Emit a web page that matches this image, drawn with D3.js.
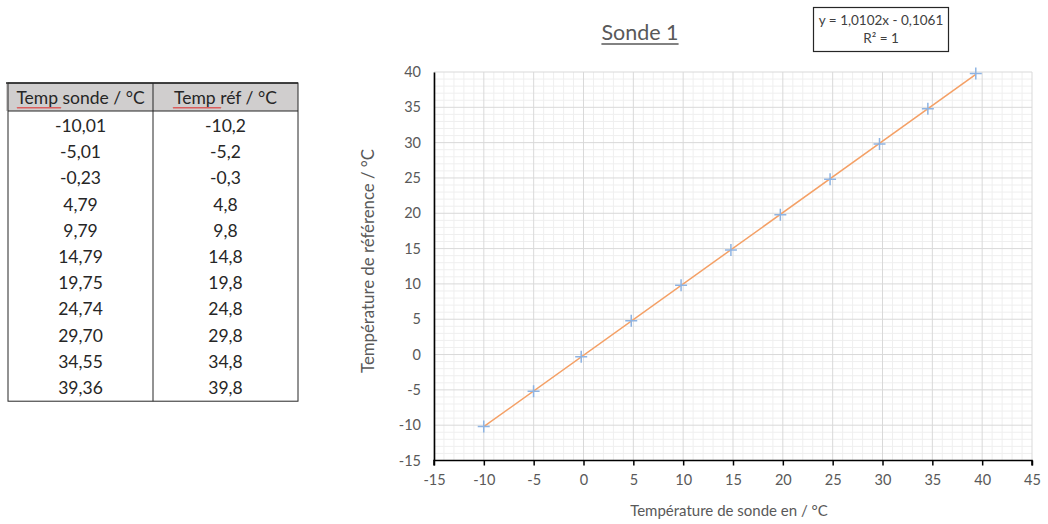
<!DOCTYPE html>
<html>
<head>
<meta charset="utf-8">
<script src="https://cdn.jsdelivr.net/npm/d3@7"></script>
<style>
  body { margin: 0; background: #fff; }
  svg { font-family: Lato, "Open Sans", sans-serif; }
</style>
</head>
<body>
<div id="chart"></div>
<script>
const tempSonde = [-10.01, -5.01, -0.23, 4.79, 9.79, 14.79, 19.75, 24.74, 29.70, 34.55, 39.36];
const tempRef = [-10.2, -5.2, -0.3, 4.8, 9.8, 14.8, 19.8, 24.8, 29.8, 34.8, 39.8];
const sondeLabels = ["-10,01", "-5,01", "-0,23", "4,79", "9,79", "14,79", "19,75", "24,74", "29,70", "34,55", "39,36"];
const refLabels = ["-10,2", "-5,2", "-0,3", "4,8", "9,8", "14,8", "19,8", "24,8", "29,8", "34,8", "39,8"];
const headers = ["Temp sonde / °C", "Temp réf / °C"];
const xTicks = d3.range(-15, 46, 5);
const yTicks = d3.range(-15, 41, 5);
const slope = 1.0102, intercept = -0.1061;

const W = 1048, H = 524;
const svg = d3.select("#chart").append("svg")
    .attr("width", W)
    .attr("height", H);

// ---- tableau ----
const tbl = svg.append("g");
const tx0 = 8, tx1 = 153, tx2 = 298;
const headTop = 83, headBot = 111, rowH = 26.2;
const tBot = headBot + rowH * tempSonde.length + 2;

tbl.append("rect")
    .attr("x", 6).attr("y", headTop)
    .attr("width", tx2 - 6).attr("height", headBot - headTop)
    .attr("fill", "#d0cece");
tbl.append("line").attr("x1", 6).attr("x2", tx2).attr("y1", headTop).attr("y2", headTop)
    .attr("stroke", "#262626").attr("stroke-width", 1.5);
tbl.append("line").attr("x1", tx0).attr("x2", tx2).attr("y1", headBot).attr("y2", headBot)
    .attr("stroke", "#262626").attr("stroke-width", 1);
tbl.append("rect")
    .attr("x", tx0).attr("y", headTop)
    .attr("width", tx2 - tx0).attr("height", tBot - headTop)
    .attr("fill", "none").attr("stroke", "#262626").attr("stroke-width", 1);
tbl.append("line").attr("x1", tx1).attr("x2", tx1).attr("y1", headTop).attr("y2", tBot)
    .attr("stroke", "#262626").attr("stroke-width", 1);

const colX = [(tx0 + tx1) / 2, (tx1 + tx2) / 2];
tbl.selectAll("text.head")
    .data(headers)
    .enter().append("text")
    .attr("class", "head")
    .attr("x", (d, i) => colX[i])
    .attr("y", headTop + 21)
    .attr("text-anchor", "middle")
    .attr("font-size", 17.5)
    .attr("fill", "#262626")
    .text(d => d);

// soulignements rouges (correcteur)
function squiggle(x0, x1, y) {
    let p = `M${x0},${y}`;
    for (let x = x0; x < x1; x += 2) p += ` L${x + 1},${y + 1.5} L${x + 2},${y}`;
    return p;
}
[[17, 61], [173, 220]].forEach(s => {
    tbl.append("path")
        .attr("d", squiggle(s[0], s[1], 107))
        .attr("fill", "none")
        .attr("stroke", "#e03030")
        .attr("stroke-width", 0.8);
});

[sondeLabels, refLabels].forEach((col, ci) => {
    tbl.selectAll(`text.c${ci}`)
        .data(col)
        .enter().append("text")
        .attr("class", `c${ci}`)
        .attr("x", colX[ci])
        .attr("y", (d, i) => headBot + rowH * i + 21)
        .attr("text-anchor", "middle")
        .attr("font-size", 17.5)
        .attr("fill", "#262626")
        .text(d => d);
});

// ---- graphique ----
const x = d3.scaleLinear().domain([-15, 45]).range([434, 1032]);
const y = d3.scaleLinear().domain([-15, 40]).range([460.5, 72]);

const grid = svg.append("g");
grid.selectAll("line.mx")
    .data(d3.range(-15, 46, 1).filter(v => v % 5 !== 0))
    .enter().append("line")
    .attr("x1", d => x(d)).attr("x2", d => x(d))
    .attr("y1", y(-15)).attr("y2", y(40))
    .attr("stroke", "#efefef").attr("stroke-width", 1);
grid.selectAll("line.my")
    .data(d3.range(-15, 41, 1).filter(v => v % 5 !== 0))
    .enter().append("line")
    .attr("y1", d => y(d)).attr("y2", d => y(d))
    .attr("x1", x(-15)).attr("x2", x(45))
    .attr("stroke", "#efefef").attr("stroke-width", 1);
grid.selectAll("line.Mx")
    .data(xTicks)
    .enter().append("line")
    .attr("x1", d => x(d)).attr("x2", d => x(d))
    .attr("y1", y(-15)).attr("y2", y(40))
    .attr("stroke", "#d9d9d9").attr("stroke-width", 1);
grid.selectAll("line.My")
    .data(yTicks)
    .enter().append("line")
    .attr("y1", d => y(d)).attr("y2", d => y(d))
    .attr("x1", x(-15)).attr("x2", x(45))
    .attr("stroke", "#d9d9d9").attr("stroke-width", 1);

// axes
const fmt = d => String(d);
const xAxis = svg.append("g")
    .attr("transform", `translate(0,${y(-15)})`)
    .call(d3.axisBottom(x).tickValues(xTicks).tickSize(5).tickPadding(9).tickFormat(fmt));
const yAxis = svg.append("g")
    .attr("transform", `translate(${x(-15)},0)`)
    .call(d3.axisLeft(y).tickValues(yTicks).tickSize(0).tickPadding(13).tickFormat(fmt));
[xAxis, yAxis].forEach(a => {
    a.select(".domain").attr("stroke", "#000").attr("stroke-width", 1.6);
    a.selectAll(".tick line").attr("stroke", "#000").attr("stroke-width", 1.5);
    a.selectAll(".tick text")
        .attr("font-family", "Lato, sans-serif")
        .attr("font-size", 14.5)
        .attr("fill", "#595959");
});
xAxis.select(".domain").attr("d", `M${x(-15)},5V0H${x(45)}V5`);

// courbe de tendance
const xs = d3.extent(tempSonde);
svg.append("line")
    .attr("x1", x(xs[0])).attr("y1", y(slope * xs[0] + intercept))
    .attr("x2", x(xs[1])).attr("y2", y(slope * xs[1] + intercept))
    .attr("stroke", "#f4a066")
    .attr("stroke-width", 1.5);

// points
svg.selectAll("path.pt")
    .data(tempSonde)
    .enter().append("path")
    .attr("class", "pt")
    .attr("d", (d, i) => `M${x(d) - 6},${y(tempRef[i])}h12M${x(d)},${y(tempRef[i]) - 6}v12`)
    .attr("stroke", "#8eb4e3")
    .attr("stroke-width", 1.5)
    .attr("fill", "none");

// titres
const title = svg.append("text")
    .attr("x", 640).attr("y", 40)
    .attr("text-anchor", "middle")
    .attr("font-size", 21.5)
    .attr("fill", "#595959")
    .text("Sonde 1");
const tb = title.node().getBBox();
svg.append("line")
    .attr("x1", tb.x).attr("x2", tb.x + tb.width)
    .attr("y1", 44).attr("y2", 44)
    .attr("stroke", "#595959").attr("stroke-width", 1.5);

svg.append("text")
    .attr("x", 729).attr("y", 516)
    .attr("text-anchor", "middle")
    .attr("font-size", 15)
    .attr("fill", "#595959")
    .text("Température de sonde en / °C");
svg.append("text")
    .attr("transform", `translate(374,${261}) rotate(-90)`)
    .attr("text-anchor", "middle")
    .attr("font-size", 16.8)
    .attr("fill", "#595959")
    .text("Température de référence / °C");

// équation
svg.append("rect")
    .attr("x", 813.5).attr("y", 7.5)
    .attr("width", 135).attr("height", 44)
    .attr("fill", "#fff")
    .attr("stroke", "#262626").attr("stroke-width", 1.2);
svg.append("text")
    .attr("x", 881).attr("y", 25)
    .attr("text-anchor", "middle")
    .attr("font-size", 13.5)
    .attr("fill", "#404040")
    .text("y = 1,0102x - 0,1061");
svg.append("text")
    .attr("x", 881).attr("y", 43)
    .attr("text-anchor", "middle")
    .attr("font-size", 13.5)
    .attr("fill", "#404040")
    .text("R² = 1");
</script>
</body>
</html>
